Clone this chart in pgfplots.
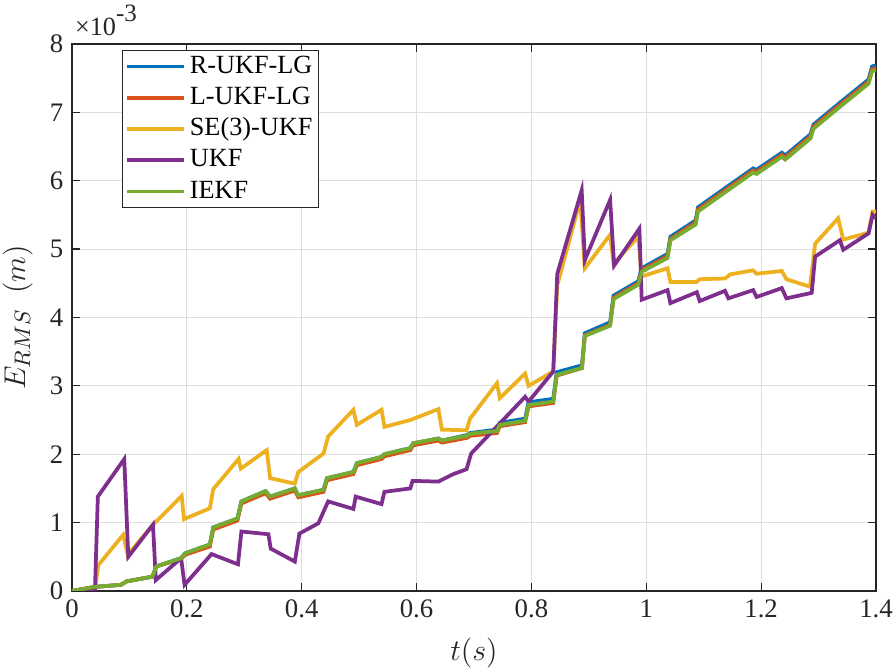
\documentclass[border=0pt]{standalone}
\usepackage{fontspec}
\setmainfont{Liberation Serif}
\usepackage{graphicx}
\usepackage{pgfplots}
\pgfplotsset{compat=1.18}
\usepackage{pgfplotstable}

\definecolor{mblue}{rgb}{0,0.447,0.741}
\definecolor{mred}{rgb}{0.850,0.325,0.098}
\definecolor{myellow}{rgb}{0.929,0.694,0.125}
\definecolor{mpurple}{rgb}{0.494,0.184,0.556}
\definecolor{mgreen}{rgb}{0.466,0.674,0.188}
\definecolor{axgray}{rgb}{0.15,0.15,0.15}

\pgfplotstableread{
t      blue  red   green
0      0     0     0
0.04   0.06  0.06  0.06
0.085  0.09  0.09  0.09
0.095  0.14  0.14  0.14
0.14   0.21  0.21  0.21
0.147  0.36  0.36  0.36
0.19   0.48  0.47  0.48
0.197  0.55  0.53  0.55
0.24   0.68  0.65  0.68
0.246  0.93  0.90  0.93
0.288  1.06  1.03  1.06
0.295  1.31  1.28  1.31
0.337  1.46  1.43  1.46
0.345  1.38  1.35  1.38
0.388  1.50  1.47  1.50
0.394  1.40  1.37  1.40
0.438  1.48  1.45  1.48
0.444  1.65  1.62  1.65
0.49   1.74  1.71  1.74
0.496  1.87  1.84  1.87
0.539  1.96  1.93  1.96
0.544  2.00  1.97  2.00
0.589  2.09  2.06  2.09
0.594  2.16  2.13  2.16
0.638  2.23  2.20  2.23
0.644  2.20  2.17  2.20
0.688  2.28  2.24  2.27
0.693  2.31  2.27  2.30
0.74   2.36  2.31  2.34
0.745  2.46  2.41  2.43
0.789  2.52  2.47  2.49
0.795  2.76  2.70  2.72
0.838  2.81  2.75  2.77
0.844  3.20  3.15  3.16
0.888  3.30  3.26  3.26
0.893  3.77  3.74  3.73
0.937  3.93  3.89  3.88
0.943  4.32  4.29  4.27
0.986  4.53  4.50  4.48
0.992  4.72  4.69  4.67
1.037  4.93  4.90  4.87
1.042  5.18  5.15  5.13
1.086  5.42  5.39  5.36
1.09   5.61  5.58  5.55
1.137  5.89  5.86  5.83
1.186  6.18  6.15  6.12
1.192  6.16  6.13  6.10
1.236  6.41  6.38  6.35
1.242  6.37  6.34  6.31
1.286  6.68  6.65  6.62
1.291  6.82  6.79  6.76
1.337  7.14  7.11  7.08
1.387  7.48  7.45  7.42
1.393  7.67  7.63  7.60
1.4    7.69  7.65  7.62
}\lgdata

\pgfplotstableread{
t      v
0      0
0.04   0.02
0.046  0.38
0.089  0.82
0.097  0.53
0.14   0.96
0.191  1.39
0.195  1.05
0.24   1.21
0.246  1.49
0.29   1.93
0.294  1.79
0.339  2.06
0.345  1.65
0.388  1.57
0.394  1.74
0.438  2.01
0.446  2.26
0.49   2.65
0.496  2.43
0.539  2.65
0.544  2.40
0.589  2.50
0.638  2.66
0.644  2.36
0.687  2.35
0.693  2.52
0.74   3.04
0.745  2.82
0.789  3.18
0.795  3.00
0.838  3.21
0.845  4.47
0.885  5.72
0.893  4.72
0.937  5.21
0.943  4.79
0.986  5.18
0.992  4.60
1.037  4.72
1.042  4.52
1.088  4.52
1.093  4.56
1.137  4.57
1.146  4.63
1.186  4.69
1.192  4.64
1.236  4.68
1.244  4.56
1.285  4.45
1.294  5.08
1.334  5.45
1.343  5.14
1.387  5.24
1.394  5.55
1.4    5.55
}\seukf

\pgfplotstableread{
t      v
0      0
0.04   0.02
0.045  1.38
0.091  1.93
0.098  0.50
0.141  0.97
0.146  0.16
0.19   0.48
0.196  0.09
0.243  0.54
0.289  0.39
0.295  0.87
0.342  0.83
0.346  0.62
0.388  0.43
0.396  0.84
0.429  0.99
0.446  1.31
0.49   1.20
0.494  1.38
0.539  1.27
0.544  1.45
0.589  1.50
0.593  1.61
0.638  1.60
0.664  1.71
0.687  1.78
0.695  2.01
0.789  2.84
0.795  2.77
0.838  3.21
0.845  4.64
0.8875 5.86
0.893  4.84
0.937  5.72
0.944  4.76
0.988  5.30
0.992  4.26
1.037  4.40
1.042  4.21
1.088  4.37
1.093  4.24
1.137  4.39
1.143  4.28
1.186  4.40
1.192  4.30
1.236  4.43
1.244  4.28
1.288  4.36
1.294  4.89
1.337  5.13
1.343  4.99
1.387  5.23
1.394  5.50
1.4    5.45
}\ukf

\begin{document}
\begin{tikzpicture}
\begin{axis}[
  scale only axis,
  width=321.6pt, height=218.8pt,
  xmin=0, xmax=1.4, ymin=0, ymax=8,
  xtick={0,0.2,0.4,0.6,0.8,1,1.2,1.4},
  ytick={0,1,2,3,4,5,6,7,8},
  xticklabel={\scalebox{1.07}{\pgfmathprintnumber[assume math mode=true]{\tick}}},
  yticklabel={\scalebox{1.07}{\pgfmathprintnumber[assume math mode=true]{\tick}}},
  clip mode=individual,
  grid=major,
  major grid style={color=black!13, line width=0.4pt},
  tick align=inside,
  tick pos=both,
  major tick length=3.2pt,
  axis line style={color=axgray, line width=0.5pt},
  every tick/.style={color=axgray, line width=0.5pt},
  tick label style={color=axgray},
  xlabel={$t(s)$},
  ylabel={$E_{RMS}\ \ (m)$},
  label style={font=\fontsize{12.5}{14}\selectfont, color=axgray},
  xlabel style={yshift=-1pt},
  legend cell align=left,
  legend image code/.code={\draw[#1,line width=1.5pt] (0pt,0pt) -- (23pt,0pt);},
  legend style={
    at={(0,1)}, anchor=north west, xshift=20pt, yshift=-2.4pt,
    draw=axgray, line width=0.5pt,
    inner xsep=0.8pt, inner ysep=0.1pt,
    row sep=0pt,
    nodes={text height=7.3pt, text depth=2pt, inner sep=1.6pt},
  },
]
\addplot[color=mblue, line width=1.5pt] table[x=t, y=blue] {\lgdata};
\addlegendentry{\scalebox{1.05}{R-UKF-LG}}
\addplot[color=mred, line width=1.5pt] table[x=t, y=red] {\lgdata};
\addlegendentry{\scalebox{1.05}{L-UKF-LG}}
\addplot[color=myellow, line width=1.5pt] table[x=t, y=v] {\seukf};
\addlegendentry{\scalebox{1.05}{SE(3)-UKF}}
\addplot[color=mpurple, line width=1.5pt] table[x=t, y=v] {\ukf};
\addlegendentry{\scalebox{1.05}{UKF}}
\addplot[color=mgreen, line width=1.5pt] table[x=t, y=green] {\lgdata};
\addlegendentry{\scalebox{1.05}{IEKF}}
\node[anchor=south west, inner sep=0pt, color=axgray]
  at (rel axis cs:0,1) [xshift=1pt, yshift=3pt] {\scalebox{1.05}{×10}\raisebox{1.2ex}{\scalebox{1.0}{-3}}};
\end{axis}
\path (current axis.south west) ++(-28.8pt,-32.4pt) coordinate (BBa);
\path (current axis.north east) ++(7.6pt,17.6pt) coordinate (BBb);
\pgfresetboundingbox
\path[use as bounding box] (BBa) rectangle (BBb);
\end{tikzpicture}
\end{document}
